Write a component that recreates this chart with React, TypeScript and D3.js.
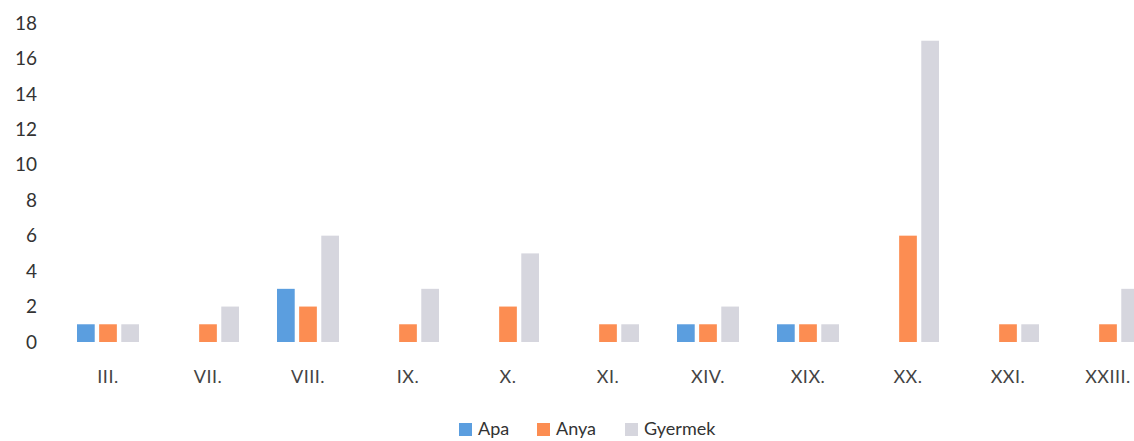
import React, { useRef, useEffect } from "react";
import * as d3 from "d3";

const categories = ["III.", "VII.", "VIII.", "IX.", "X.", "XI.", "XIV.", "XIX.", "XX.", "XXI.", "XXIII."];
const apa = [1, 0, 3, 0, 0, 0, 1, 1, 0, 0, 0];
const anya = [1, 1, 2, 1, 2, 1, 1, 1, 6, 1, 1];
const gyermek = [1, 2, 6, 3, 5, 1, 2, 1, 17, 1, 3];
const seriesNames = ["Apa", "Anya", "Gyermek"];
const seriesColors = ["#5b9edf", "#fc8d52", "#d6d6de"];
const yTicks = [0, 2, 4, 6, 8, 10, 12, 14, 16, 18];

function App() {
  const svgRef = useRef<SVGSVGElement>(null);
  const width = 1134;
  const height = 441;

  useEffect(() => {
    const svg = d3.select(svgRef.current);
    svg.selectAll("*").remove();

    const font = "Lato, 'Open Sans', sans-serif";
    const values = [apa, anya, gyermek];

    const x = d3.scaleBand().domain(categories).range([58, 1158]).paddingInner(0).paddingOuter(0);
    const inner = d3.scaleBand().domain(seriesNames).range([-31, 31]).paddingInner(0.2);
    const y = d3.scaleLinear().domain([0, 18]).range([342, 23]);

    // y axis labels
    svg.append("g")
      .selectAll("text")
      .data(yTicks)
      .join("text")
      .attr("x", 37)
      .attr("y", d => y(d))
      .attr("dy", "0.35em")
      .attr("text-anchor", "end")
      .attr("font-family", font)
      .attr("font-size", 19)
      .attr("fill", "#333")
      .text(d => d);

    // bars
    seriesNames.forEach((name, s) => {
      svg.append("g")
        .selectAll("rect")
        .data(categories.map((c, i) => ({ c, v: values[s][i] })).filter(d => d.v > 0))
        .join("rect")
        .attr("x", d => (x(d.c) as number) + x.bandwidth() / 2 + (inner(name) as number))
        .attr("width", inner.bandwidth())
        .attr("y", d => y(d.v))
        .attr("height", d => y(0) - y(d.v))
        .attr("fill", seriesColors[s]);
    });

    // category labels
    svg.append("g")
      .selectAll("text")
      .data(categories)
      .join("text")
      .attr("x", d => (x(d) as number) + x.bandwidth() / 2)
      .attr("y", 377)
      .attr("dy", "0.35em")
      .attr("text-anchor", "middle")
      .attr("font-family", font)
      .attr("font-size", 18)
      .attr("letter-spacing", 0.5)
      .attr("fill", "#444")
      .text(d => d);

    // legend
    const legendX = [459, 537, 625];
    const legend = svg.append("g");
    seriesNames.forEach((name, s) => {
      legend.append("rect")
        .attr("x", legendX[s])
        .attr("y", 423)
        .attr("width", 13)
        .attr("height", 13)
        .attr("fill", seriesColors[s]);
      legend.append("text")
        .attr("x", legendX[s] + 19)
        .attr("y", 429)
        .attr("dy", "0.35em")
        .attr("font-family", font)
        .attr("font-size", 18)
        .attr("fill", "#333")
        .text(name);
    });
  }, []);

  return (
    <svg
      ref={svgRef}
      width={width}
      height={height}
      style={{ position: "absolute", left: 0, top: 0, background: "#fff" }}
    ></svg>
  );
}

export default App;
